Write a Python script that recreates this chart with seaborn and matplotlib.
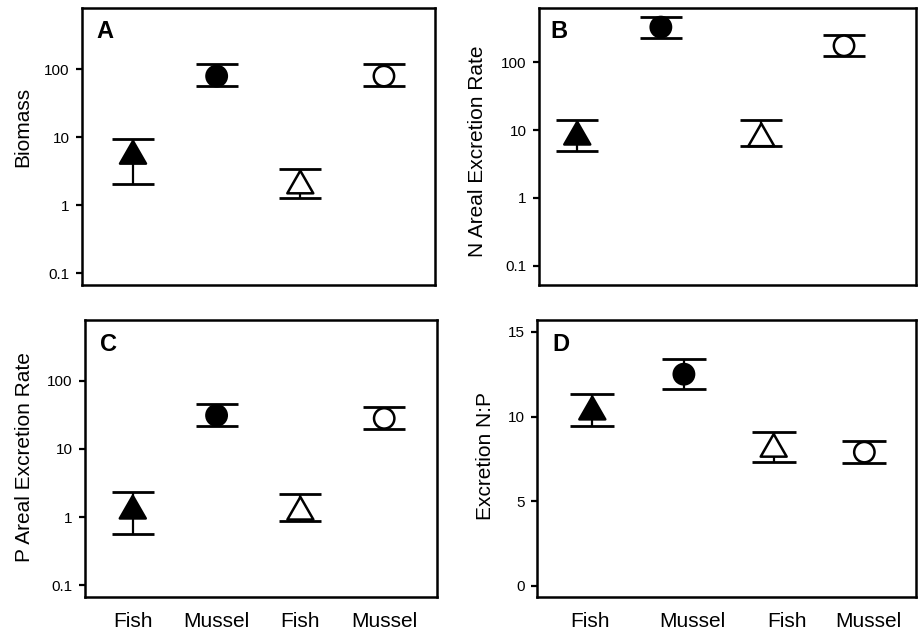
import matplotlib
matplotlib.use("Agg")
import matplotlib.pyplot as plt
from matplotlib.ticker import FixedLocator, FixedFormatter, NullLocator
from matplotlib.path import Path
import numpy as np
import pandas as pd
import seaborn as sns

# ---------------- data ----------------
groups = ["Fish", "Mussel", "Fish", "Mussel"]
kinds = ["filled", "filled", "open", "open"]

biomass_mean = [6.0, 79, 2.2, 79]
biomass_lo = [2.05, 56, 1.27, 56]
biomass_hi = [9.5, 118, 3.4, 118]

n_exc_mean = [9.0, 330, 8.5, 175]
n_exc_lo = [4.9, 225, 5.8, 123]
n_exc_hi = [14.3, 470, 14.3, 255]

p_exc_mean = [1.4, 31, 1.35, 28]
p_exc_lo = [0.56, 22, 0.87, 19.6]
p_exc_hi = [2.3, 45, 2.2, 41]

np_mean = [10.5, 12.5, 8.3, 7.9]
np_lo = [9.45, 11.65, 7.3, 7.25]
np_hi = [11.35, 13.4, 9.1, 8.55]

log_ticks = [0.1, 1, 10, 100]
log_tick_labels = ["0.1", "1", "10", "100"]
lin_ticks = [0, 5, 10, 15]
lin_tick_labels = ["0", "5", "10", "15"]

# ---------------- style ----------------
sns.set_style("ticks")
plt.rcParams["font.family"] = ["Liberation Sans", "DejaVu Sans"]
plt.rcParams["text.color"] = "black"
plt.rcParams["axes.labelcolor"] = "black"
plt.rcParams["xtick.color"] = "black"
plt.rcParams["ytick.color"] = "black"

fig = plt.figure(figsize=(9.2, 6.31), dpi=100)

tri = Path([(-1.0, -0.87), (1.0, -0.87), (0.0, 0.87), (-1.0, -0.87)],
           [Path.MOVETO, Path.LINETO, Path.LINETO, Path.CLOSEPOLY])

panels = [
    dict(letter="A", ylabel="Biomass", mean=biomass_mean, lo=biomass_lo, hi=biomass_hi,
         rect=[0.0891, 0.5483, 0.3837, 0.4390], log=True, ylim=(0.0676, 789),
         xpos=[0, 1, 2, 3], xlim=(-0.61, 3.61), labels=False,
         lab_xy=(-0.167, 0.570), let_xy=(0.040, 0.892), cap=15),
    dict(letter="B", ylabel="N Areal Excretion Rate", mean=n_exc_mean, lo=n_exc_lo, hi=n_exc_hi,
         rect=[0.5859, 0.5483, 0.4098, 0.4390], log=True, ylim=(0.0519, 631),
         xpos=[0, 0.94, 2.07, 3], xlim=(-0.43, 3.81), labels=False,
         lab_xy=(-0.164, 0.484), let_xy=(0.030, 0.892), cap=15),
    dict(letter="C", ylabel="P Areal Excretion Rate", mean=p_exc_mean, lo=p_exc_lo, hi=p_exc_hi,
         rect=[0.0924, 0.0539, 0.3826, 0.4390], log=True, ylim=(0.0675, 776),
         xpos=[0, 1, 2, 3], xlim=(-0.57, 3.63), labels=True, tickpos=[0, 1, 2, 3],
         lab_xy=(-0.173, 0.505), let_xy=(0.043, 0.888), cap=15),
    dict(letter="D", ylabel="Excretion N:P", mean=np_mean, lo=np_lo, hi=np_hi,
         rect=[0.5837, 0.0539, 0.4120, 0.4390], log=False, ylim=(-0.65, 15.7),
         xpos=[0, 1.01, 2.0, 3.0], xlim=(-0.61, 3.57), labels=True,
         tickpos=[-0.03, 1.10, 2.15, 3.04],
         lab_xy=(-0.137, 0.509), let_xy=(0.040, 0.888), cap=16),
]

for p in panels:
    ax = fig.add_axes(p["rect"])
    mean = np.array(p["mean"], dtype=float)
    lo = np.array(p["lo"], dtype=float)
    hi = np.array(p["hi"], dtype=float)
    x = np.array(p["xpos"], dtype=float)

    if p["log"]:
        ax.set_yscale("log")

    ax.errorbar(x, mean, yerr=[mean - lo, hi - mean], fmt="none", ecolor="black",
                elinewidth=1.6, capsize=p["cap"], capthick=2.0, zorder=1)

    df = pd.DataFrame({"x": x, "y": mean, "kind": kinds, "group": groups})
    sns.scatterplot(data=df, x="x", y="y", hue="kind", style="group", size="group",
                    palette={"filled": "black", "open": "white"},
                    markers={"Fish": tri, "Mussel": "o"},
                    sizes={"Fish": 350, "Mussel": 215},
                    edgecolor="black", linewidth=1.8, legend=False, ax=ax, zorder=3)

    ax.set_xlim(*p["xlim"])
    ax.set_ylim(*p["ylim"])

    if p["log"]:
        ax.yaxis.set_major_locator(FixedLocator(log_ticks))
        ax.yaxis.set_major_formatter(FixedFormatter(log_tick_labels))
        ax.yaxis.set_minor_locator(NullLocator())
    else:
        ax.yaxis.set_major_locator(FixedLocator(lin_ticks))
        ax.yaxis.set_major_formatter(FixedFormatter(lin_tick_labels))

    ax.tick_params(axis="y", direction="out", length=4, width=1.6, labelsize=11,
                   pad=5, colors="black")
    if p["labels"]:
        ax.set_xticks(p["tickpos"])
        ax.set_xticklabels(groups)
        ax.tick_params(axis="x", length=0, labelsize=15, pad=11)
    else:
        ax.set_xticks([])

    ax.set_xlabel("")
    ax.set_ylabel(p["ylabel"], fontsize=15, va="center", color="black")
    ax.yaxis.set_label_coords(*p["lab_xy"])

    for s in ax.spines.values():
        s.set_visible(True)
        s.set_linewidth(1.8)
        s.set_color("black")

    ax.text(p["let_xy"][0], p["let_xy"][1], p["letter"], transform=ax.transAxes,
            fontsize=17, fontweight="bold", ha="left", va="baseline", color="black")

fig.savefig("out.png", dpi=100)
